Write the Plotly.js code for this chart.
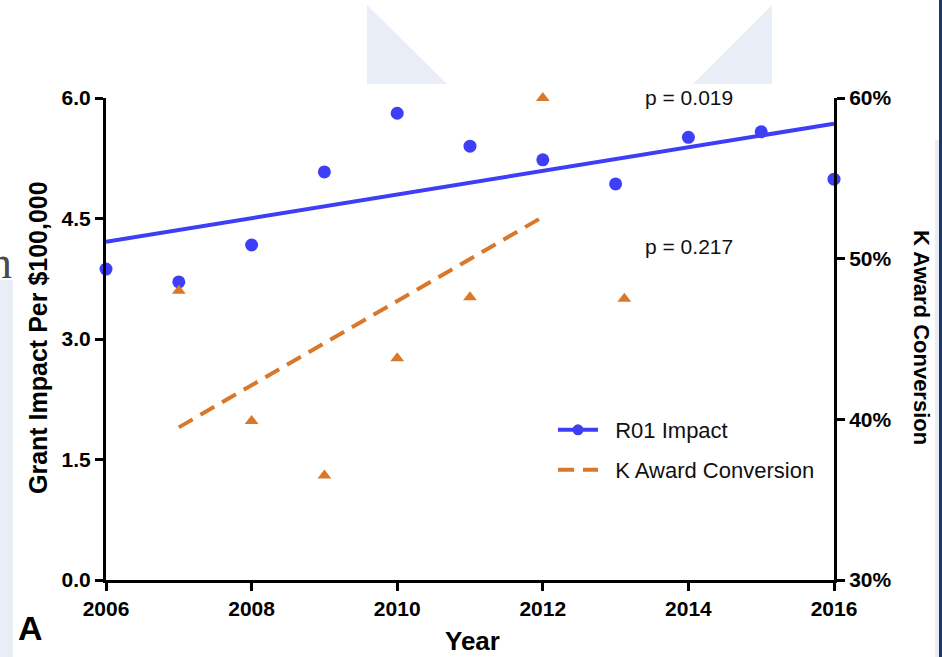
<!DOCTYPE html>
<html>
<head>
<meta charset="utf-8">
<script src="https://cdn.plot.ly/plotly-3.0.1.min.js"></script>
<style>html,body{margin:0;padding:0;background:#fff;}#chart{width:942px;height:657px;}</style>
</head>
<body>
<div id="chart"></div>
<script>
// ---- data ----
const years = [2006, 2007, 2008, 2009, 2010, 2011, 2012, 2013, 2014, 2015, 2016];
const r01Impact = [3.87, 3.71, 4.17, 5.08, 5.81, 5.40, 5.23, 4.93, 5.51, 5.58, 4.99];
const kYears = [2007, 2008, 2009, 2010, 2011, 2012, 2013.12];
const kConversion = [48.0, 39.9, 36.5, 43.8, 47.6, 60.0, 47.5];
const r01TrendYears = [2006, 2016];
const r01Trend = [4.21, 5.68];
const kTrendYears = [2007, 2012];
const kTrend = [39.5, 52.6];
const xTicks = [2006, 2008, 2010, 2012, 2014, 2016];
const yTicks = [0, 1.5, 3, 4.5, 6];
const yTickText = ['0.0', '1.5', '3.0', '4.5', '6.0'];
const y2Ticks = [30, 40, 50, 60];
const y2TickText = ['30%', '40%', '50%', '60%'];
const pLabels = ['p = 0.019', 'p = 0.217'];
const seriesNames = ['R01 Impact', 'K Award Conversion'];

// ---- layout helpers (pixel -> paper) ----
const L = 106, T = 98, W = 728, H = 482;
const px = v => (v - L) / W;
const py = v => (T + H - v) / H;

const BLUE = '#3e3ef6';
const ORANGE = '#d9782a';
const FONT = 'Liberation Sans, Arial, sans-serif';
const BG = '#e9edf5';
const GAP = '\u00a0\u00a0';

const traces = [
  {x: r01TrendYears, y: r01Trend, mode: 'lines', line: {color: BLUE, width: 4}, showlegend: false, hoverinfo: 'skip', cliponaxis: false},
  {x: years, y: r01Impact, mode: 'markers', marker: {color: BLUE, size: 13}, showlegend: false, cliponaxis: false},
  {x: kTrendYears, y: kTrend, yaxis: 'y2', mode: 'lines', name: GAP + seriesNames[1], legend: 'legend2',
   line: {color: ORANGE, width: 4, dash: '16px,9px'}, showlegend: true, cliponaxis: false},
  {x: kYears, y: kConversion, yaxis: 'y2', mode: 'markers', marker: {color: ORANGE, size: 12, symbol: 'triangle-up'}, showlegend: false, cliponaxis: false},
  {x: [null], y: [null], mode: 'lines+markers', name: GAP + seriesNames[0], legend: 'legend',
   line: {color: BLUE, width: 4}, marker: {color: BLUE, size: 11}, showlegend: true}
];

function tri(pts) {
  return 'M' + pts.map(p => px(p[0]) + ',' + py(p[1])).join(' L') + ' Z';
}

const axisCommon = {
  showline: true, linecolor: '#000', linewidth: 3, ticks: 'outside', ticklen: 8, tickwidth: 3, tickcolor: '#000',
  showgrid: false, zeroline: false, tickfont: {family: FONT, size: 21, color: '#000', weight: 'bold'}
};

function ann(text, x, y, size, extra) {
  return Object.assign({text: text, xref: 'paper', yref: 'paper', x: px(x), y: py(y), showarrow: false,
    xanchor: 'center', yanchor: 'middle', font: {family: FONT, size: size, color: '#000', weight: 'bold'}}, extra || {});
}

const layout = {
  width: 942, height: 657,
  margin: {l: L, r: 942 - L - W, t: T, b: 657 - T - H},
  paper_bgcolor: '#fff', plot_bgcolor: 'rgba(0,0,0,0)',
  font: {family: FONT, color: '#000'},
  xaxis: Object.assign({}, axisCommon, {range: [2006, 2016], tickvals: xTicks, ticktext: xTicks.map(String)}),
  yaxis: Object.assign({}, axisCommon, {range: [0, 6], tickvals: yTicks, ticktext: yTickText}),
  yaxis2: Object.assign({}, axisCommon, {range: [30, 60], tickvals: y2Ticks, ticktext: y2TickText, overlaying: 'y', side: 'right'}),
  legend: {x: px(553), y: py(430), xanchor: 'left', yanchor: 'middle', bgcolor: 'rgba(0,0,0,0)',
           font: {family: FONT, size: 22, color: '#111'}, itemwidth: 40},
  legend2: {x: px(553), y: py(470), xanchor: 'left', yanchor: 'middle', bgcolor: 'rgba(0,0,0,0)',
            font: {family: FONT, size: 22, color: '#111'}, itemwidth: 40},
  shapes: [
    {type: 'path', xref: 'paper', yref: 'paper', layer: 'below', line: {width: 0}, fillcolor: BG,
     path: tri([[367, 5], [367, 84], [447, 84]])},
    {type: 'path', xref: 'paper', yref: 'paper', layer: 'below', line: {width: 0}, fillcolor: BG,
     path: tri([[772, 5], [772, 84], [693, 84]])},
    {type: 'rect', xref: 'paper', yref: 'paper', layer: 'below', line: {width: 0}, fillcolor: BG,
     x0: px(0), x1: px(13), y0: py(280), y1: py(657)},
    {type: 'rect', xref: 'paper', yref: 'paper', layer: 'below', line: {width: 0}, fillcolor: BG,
     x0: px(935), x1: px(939), y0: py(140), y1: py(657)},
    {type: 'rect', xref: 'paper', yref: 'paper', layer: 'below', line: {width: 0}, fillcolor: '#1d3768',
     x0: px(939), x1: px(942), y0: py(0), y1: py(657)}
  ],
  annotations: [
    ann(pLabels[0], 689, 97, 21, {font: {family: FONT, size: 21, color: '#111'}}),
    ann(pLabels[1], 689, 246, 21, {font: {family: FONT, size: 21, color: '#111'}}),
    ann('Grant Impact Per $100,000', 38, 338, 25, {textangle: -90}),
    ann('K Award Conversion', 922, 337, 22, {textangle: 90}),
    ann('Year', 472, 641, 26),
    ann('A', 30, 628, 34),
    ann('n', 14, 290, 44, {xanchor: 'right', yanchor: 'bottom',
        font: {family: 'Liberation Serif, serif', size: 46, color: '#4a4a4a'}})
  ]
};

Plotly.newPlot('chart', traces, layout, {displayModeBar: false, staticPlot: true});
</script>
</body>
</html>
